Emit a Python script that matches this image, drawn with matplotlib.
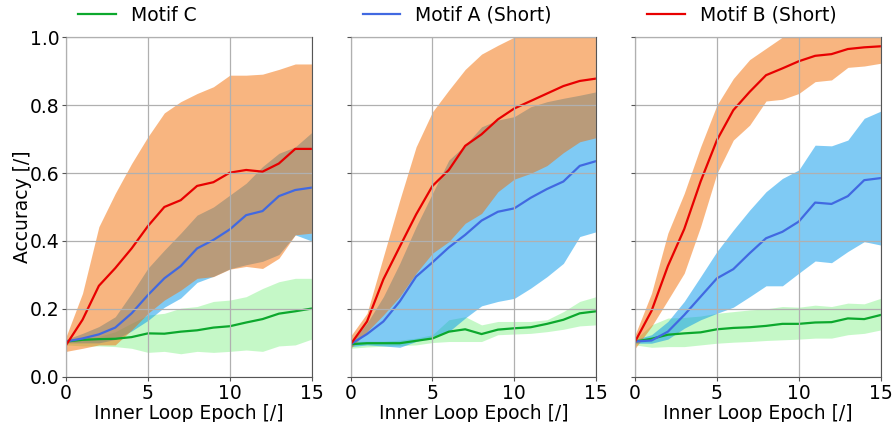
import numpy as np
import matplotlib
matplotlib.use('Agg')
import matplotlib.pyplot as plt

# epochs of the inner loop
epochs = np.arange(16)

# one row per panel (left, middle, right)
# Motif C (green)
c_mean = [
    [0.104, 0.109, 0.111, 0.112, 0.117, 0.128, 0.127, 0.133, 0.137, 0.145, 0.149, 0.160, 0.170, 0.186, 0.193, 0.201],
    [0.096, 0.099, 0.099, 0.099, 0.106, 0.113, 0.133, 0.140, 0.126, 0.139, 0.143, 0.146, 0.156, 0.168, 0.187, 0.193],
    [0.104, 0.112, 0.124, 0.128, 0.131, 0.140, 0.144, 0.146, 0.150, 0.156, 0.156, 0.160, 0.161, 0.172, 0.170, 0.182],
]
c_hi = [
    [0.110, 0.114, 0.119, 0.133, 0.158, 0.182, 0.187, 0.202, 0.207, 0.222, 0.226, 0.236, 0.260, 0.280, 0.290, 0.290],
    [0.104, 0.105, 0.105, 0.108, 0.114, 0.124, 0.168, 0.177, 0.153, 0.163, 0.163, 0.163, 0.168, 0.192, 0.222, 0.236],
    [0.110, 0.153, 0.173, 0.175, 0.179, 0.187, 0.192, 0.197, 0.200, 0.207, 0.205, 0.211, 0.207, 0.217, 0.215, 0.231],
]
c_lo = [
    [0.094, 0.091, 0.091, 0.089, 0.084, 0.072, 0.075, 0.068, 0.075, 0.072, 0.075, 0.079, 0.075, 0.091, 0.094, 0.111],
    [0.084, 0.088, 0.090, 0.092, 0.094, 0.101, 0.104, 0.104, 0.104, 0.124, 0.126, 0.128, 0.133, 0.140, 0.150, 0.153],
    [0.094, 0.087, 0.089, 0.089, 0.094, 0.099, 0.102, 0.104, 0.107, 0.109, 0.111, 0.114, 0.114, 0.124, 0.128, 0.138],
]

# Motif A (Short) (blue)
a_mean = [
    [0.104, 0.113, 0.125, 0.145, 0.187, 0.241, 0.290, 0.326, 0.378, 0.403, 0.434, 0.476, 0.488, 0.532, 0.550, 0.557],
    [0.096, 0.126, 0.163, 0.222, 0.295, 0.337, 0.381, 0.418, 0.460, 0.486, 0.496, 0.527, 0.553, 0.575, 0.621, 0.635],
    [0.104, 0.107, 0.133, 0.182, 0.236, 0.290, 0.317, 0.364, 0.408, 0.427, 0.457, 0.513, 0.509, 0.532, 0.579, 0.585],
]
a_hi = [
    [0.110, 0.128, 0.148, 0.177, 0.246, 0.320, 0.373, 0.423, 0.476, 0.500, 0.535, 0.570, 0.619, 0.658, 0.677, 0.719],
    [0.100, 0.158, 0.236, 0.334, 0.442, 0.540, 0.638, 0.682, 0.736, 0.756, 0.766, 0.795, 0.810, 0.820, 0.829, 0.839],
    [0.110, 0.124, 0.163, 0.222, 0.295, 0.369, 0.432, 0.491, 0.545, 0.584, 0.609, 0.682, 0.680, 0.697, 0.761, 0.782],
]
a_lo = [
    [0.100, 0.100, 0.100, 0.110, 0.135, 0.166, 0.205, 0.232, 0.278, 0.296, 0.318, 0.330, 0.340, 0.360, 0.418, 0.400],
    [0.089, 0.094, 0.091, 0.087, 0.104, 0.119, 0.133, 0.173, 0.209, 0.222, 0.231, 0.261, 0.295, 0.334, 0.413, 0.427],
    [0.099, 0.099, 0.111, 0.143, 0.168, 0.187, 0.205, 0.236, 0.268, 0.268, 0.305, 0.341, 0.336, 0.369, 0.398, 0.388],
]

# Motif B (Short) (red)
b_mean = [
    [0.094, 0.168, 0.268, 0.320, 0.378, 0.444, 0.500, 0.520, 0.562, 0.573, 0.601, 0.609, 0.604, 0.628, 0.671, 0.671],
    [0.096, 0.163, 0.287, 0.383, 0.478, 0.562, 0.609, 0.680, 0.714, 0.758, 0.790, 0.812, 0.834, 0.856, 0.871, 0.878],
    [0.104, 0.194, 0.326, 0.435, 0.575, 0.697, 0.785, 0.839, 0.888, 0.908, 0.929, 0.945, 0.950, 0.965, 0.970, 0.973],
]
b_hi = [
    [0.119, 0.246, 0.442, 0.540, 0.628, 0.707, 0.777, 0.810, 0.834, 0.854, 0.888, 0.888, 0.891, 0.905, 0.921, 0.921],
    [0.120, 0.187, 0.354, 0.520, 0.677, 0.780, 0.844, 0.905, 0.950, 0.976, 1.000, 1.010, 1.020, 1.030, 1.035, 1.040],
    [0.124, 0.246, 0.423, 0.540, 0.677, 0.800, 0.878, 0.934, 0.967, 1.000, 1.020, 1.030, 1.030, 1.020, 1.030, 1.030],
]
b_lo = [
    [0.075, 0.084, 0.094, 0.094, 0.138, 0.187, 0.226, 0.255, 0.290, 0.295, 0.317, 0.325, 0.319, 0.349, 0.418, 0.423],
    [0.084, 0.133, 0.182, 0.236, 0.305, 0.364, 0.398, 0.452, 0.481, 0.545, 0.582, 0.599, 0.622, 0.660, 0.692, 0.704],
    [0.084, 0.148, 0.226, 0.305, 0.442, 0.599, 0.697, 0.741, 0.812, 0.817, 0.834, 0.869, 0.874, 0.911, 0.915, 0.923],
]

labels = ['Motif C', 'Motif A (Short)', 'Motif B (Short)']
fs = 13.5

fig, axes = plt.subplots(1, 3, figsize=(8.94, 4.22), dpi=100, sharey=True)
fig.subplots_adjust(left=0.074, right=0.985, top=0.912, bottom=0.107, wspace=0.159)

for k, ax in enumerate(axes):
    ax.fill_between(epochs, c_lo[k], c_hi[k], color='#8CF390', alpha=0.5, lw=0)
    ax.fill_between(epochs, a_lo[k], a_hi[k], color='#0197EB', alpha=0.5, lw=0)
    ax.fill_between(epochs, b_lo[k], b_hi[k], color='#F36D02', alpha=0.5, lw=0)
    l_c, = ax.plot(epochs, c_mean[k], color='#0CA82D', lw=1.6, label=labels[0])
    l_a, = ax.plot(epochs, a_mean[k], color='royalblue', lw=1.6, label=labels[1])
    l_b, = ax.plot(epochs, b_mean[k], color='#E80000', lw=1.6, label=labels[2])

    ax.set_xlim(0, 15)
    ax.set_ylim(0, 1)
    ax.set_xticks([0, 5, 10, 15])
    ax.set_yticks([0, 0.2, 0.4, 0.6, 0.8, 1.0])
    ax.grid(True, color='#b0b0b0', lw=0.9)
    ax.set_axisbelow(False)
    for s in ax.spines.values():
        s.set_color('#555555')
    ax.tick_params(labelsize=fs, colors='#555555', labelcolor='black', length=3, pad=2)
    ax.set_xlabel('Inner Loop Epoch [/]', fontsize=fs, labelpad=1)

    handle = [l_c, l_a, l_b][k]
    ax.legend(handles=[handle], loc='lower left', bbox_to_anchor=(0, 1.0),
              frameon=False, fontsize=fs, borderaxespad=0.25)

axes[0].set_ylabel('Accuracy [/]', fontsize=fs, labelpad=-2)

fig.savefig('out.png', dpi=100)
